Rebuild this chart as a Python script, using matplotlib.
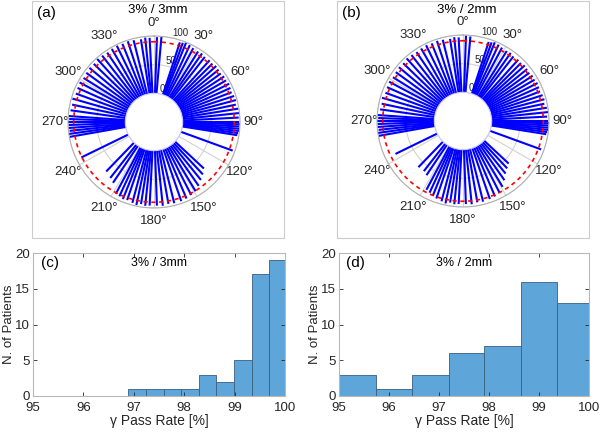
import numpy as np
import matplotlib
matplotlib.use('Agg')
import matplotlib.pyplot as plt

plt.rcParams['font.family'] = ['Liberation Sans', 'DejaVu Sans']

# beam angles (deg, clockwise from top) and gamma pass rates per angle
angles = [2, 5,
          18, 20, 22, 25, 28, 32, 35, 38, 42, 45, 48, 51, 54, 57, 60, 63, 66, 69, 72, 75, 78, 81, 84, 87,
          90, 91.5, 93, 94.5, 96, 97.5, 99,
          110,
          133, 137, 141, 145, 149, 153, 157, 161, 166, 170, 174, 178,
          183, 186, 189, 192, 195, 199, 202, 205, 208,
          214, 218, 224,
          244,
          260, 262, 264, 266, 268, 270, 272, 274,
          278, 282, 286, 290, 294, 298, 302, 306, 310, 314, 318, 322, 326, 330, 334, 338, 342, 346, 351, 354, 357]

pass_3mm = [98, 99,
            96, 97, 99, 98, 96, 95, 96, 94, 95, 94, 96, 95, 94, 96, 95, 97, 96, 95, 97, 98, 96, 99, 99, 98,
            99, 100, 99, 100, 99, 98, 97,
            96,
            69, 75, 80, 86, 91, 93, 95, 96, 96, 95, 97, 96,
            96, 97, 95, 98, 96, 94, 95, 93, 92,
            78, 74, 70,
            91,
            99, 100, 98, 100, 99, 100, 98, 99,
            97, 96, 98, 95, 96, 97, 95, 96, 97, 96, 98, 97, 96, 97, 98, 97, 98, 97, 96, 98, 97]

pass_2mm = [99, 98,
            95, 96, 98, 97, 95, 94, 95, 93, 94, 93, 95, 94, 93, 95, 94, 96, 95, 94, 96, 97, 95, 98, 99, 97,
            99, 100, 99, 100, 99, 98, 97,
            95,
            59, 63, 68, 76, 84, 90, 93, 94, 95, 94, 96, 95,
            95, 96, 94, 97, 95, 93, 90, 88, 86,
            64, 61, 62,
            81,
            99, 100, 98, 100, 99, 100, 98, 99,
            96, 95, 97, 94, 95, 96, 94, 95, 96, 95, 97, 96, 95, 96, 97, 96, 97, 96, 95, 97, 96]

threshold = 90

# histograms
c_edges = [96.89, 97.24, 97.59, 97.94, 98.29, 98.64, 98.99, 99.34, 99.69, 100.0]
c_counts = [1, 1, 1, 1, 3, 2, 5, 17, 19]
d_edges = [95.0, 95.73, 96.45, 97.19, 97.9, 98.63, 99.35, 100.0]
d_counts = [3, 1, 3, 6, 7, 16, 13]

W, H = 600, 433
fig = plt.figure(figsize=(6, 4.33), dpi=100)


def px(x0, y0, x1, y1):
    # pixel box (top-left origin) -> figure fraction rect
    return [x0 / W, 1 - y1 / H, (x1 - x0) / W, (y1 - y0) / H]


def make_polar(box, center, vals, title, tag):
    frame = fig.add_axes(px(*box))
    frame.set_xticks([])
    frame.set_yticks([])
    for s in frame.spines.values():
        s.set_color('#cccccc')
        s.set_linewidth(0.8)
    cx, cy = center
    R = 86
    ax = fig.add_axes(px(cx - R, cy - R, cx + R, cy + R), projection='polar')
    ax.set_theta_zero_location('N')
    ax.set_theta_direction(-1)
    ax.set_ylim(0, 100)
    ax.set_rorigin(-50)
    ax.set_thetagrids(range(0, 360, 30), fontsize=9.5, color='#262626')
    ax.set_rgrids([0, 50, 100], labels=['0', '50', '100'], angle=12, fontsize=7, color='#262626')
    ax.grid(color='#d2d2d2', lw=0.8)
    ax.tick_params(axis='x', pad=-1)
    ax.spines['polar'].set_color('#b0b0b0')
    ax.spines['inner'].set_color('#c8c8ff')
    ax.set_facecolor('none')
    ax.vlines(np.deg2rad(angles), 0, vals, color='blue', lw=1.5)
    th = np.linspace(0, 2 * np.pi, 400)
    ax.plot(th, np.full_like(th, threshold), color='red', ls=(0, (2.5, 2.2)), lw=1.2)
    fig.text((box[0] + 5) / W, 1 - 13 / H, tag, fontsize=11, va='center', ha='left')
    fig.text((cx + 4) / W, 1 - 10 / H, title, fontsize=9.5, va='center', ha='center')


def make_hist(box, edges, counts, title, tag):
    ax = fig.add_axes(px(*box))
    widths = np.diff(edges)
    ax.bar(edges[:-1], counts, width=widths, align='edge', color='#5ea6da',
           edgecolor='#3a5f7f', linewidth=0.6)
    ax.set_xlim(95, 100)
    ax.set_ylim(0, 20)
    ax.set_xticks([95, 96, 97, 98, 99, 100])
    ax.set_yticks([0, 5, 10, 15, 20])
    ax.tick_params(direction='in', top=True, right=True, labelsize=9.5, colors='#262626',
                   length=3, width=0.6)
    ax.tick_params(axis='x', pad=4)
    ax.tick_params(axis='y', pad=2)
    for s in ax.spines.values():
        s.set_color('#b8b8b8')
        s.set_linewidth(0.8)
    ax.set_xlabel('γ Pass Rate [%]', fontsize=10, color='#262626', labelpad=0)
    ax.set_ylabel('N. of Patients', fontsize=9.5, color='#262626', labelpad=0)
    ax.text(0.03, 0.93, tag, transform=ax.transAxes, fontsize=11, va='center', ha='left')
    ax.text(0.5, 0.93, title, transform=ax.transAxes, fontsize=9, va='center', ha='center')


make_polar((32, 0.5, 284, 238), (154, 122), pass_3mm, '3% / 3mm', '(a)')
make_polar((337, 0.5, 589, 238), (463, 121), pass_2mm, '3% / 2mm', '(b)')
make_hist((33, 253, 285, 396), c_edges, c_counts, '3% / 3mm', '(c)')
make_hist((339, 253, 589, 396), d_edges, d_counts, '3% / 2mm', '(d)')

fig.savefig('out.png', dpi=100)
